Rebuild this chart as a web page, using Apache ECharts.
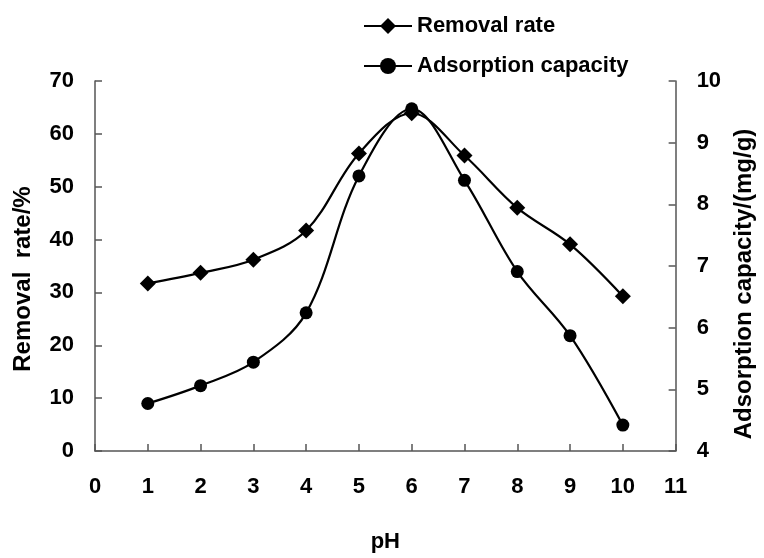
<!DOCTYPE html>
<html>
<head>
<meta charset="utf-8">
<script src="https://cdn.jsdelivr.net/npm/echarts@6/dist/echarts.min.js"></script>
<style>
  html, body { margin: 0; padding: 0; background: #fff; }
  #main { width: 764px; height: 558px; }
</style>
</head>
<body>
<div id="main"></div>
<script>
  // pH values and the two measured series
  var phValues = [1, 2, 3, 4, 5, 6, 7, 8, 9, 10]
  var removalRate = [31.7, 33.7, 36.2, 41.7, 56.3, 63.9, 55.9, 46.0, 39.1, 29.3]
  var adsorptionCapacity = [4.77, 5.06, 5.44, 6.24, 8.46, 9.55, 8.39, 6.91, 5.87, 4.42]
  var seriesNames = ['Removal rate', 'Adsorption capacity']

  function pairs (xs, ys) {
    return xs.map(function (x, i) { return [x, ys[i]] })
  }

  var font = 'Liberation Sans, Arial, sans-serif'
  var axisColor = '#555'

  var chart = echarts.init(document.getElementById('main'))
  chart.setOption({
    animation: false,
    backgroundColor: '#fff',
    legend: {
      orient: 'vertical',
      left: 358,
      top: 10,
      itemWidth: 48,
      itemHeight: 20,
      itemGap: 18,
      data: seriesNames,
      textStyle: { fontFamily: font, fontWeight: 'bold', fontSize: 22, color: '#000' }
    },
    grid: { left: 95, right: 82, top: 81, bottom: 89 },
    xAxis: {
      type: 'value',
      min: 0,
      max: 11,
      interval: 1,
      name: 'pH',
      nameLocation: 'middle',
      nameGap: 80,
      nameTextStyle: { fontFamily: font, fontWeight: 'bold', fontSize: 22, color: '#000' },
      axisLine: { lineStyle: { color: axisColor, width: 1.5 } },
      axisTick: { inside: true, length: 7, lineStyle: { color: axisColor, width: 1.5 } },
      axisLabel: { margin: 25, fontFamily: font, fontWeight: 'bold', fontSize: 22, color: '#000' },
      splitLine: { show: false }
    },
    yAxis: [
      {
        type: 'value',
        min: 0,
        max: 70,
        interval: 10,
        name: 'Removal  rate/%',
        nameLocation: 'middle',
        nameGap: 60,
        nameTextStyle: { fontFamily: font, fontWeight: 'bold', fontSize: 24, color: '#000', padding: [0, 26, 0, 0] },
        axisLine: { show: true, lineStyle: { color: axisColor, width: 1.5 } },
        axisTick: { show: true, inside: true, length: 7, lineStyle: { color: axisColor, width: 1.5 } },
        axisLabel: { margin: 21, fontFamily: font, fontWeight: 'bold', fontSize: 22, color: '#000' },
        splitLine: { show: false }
      },
      {
        type: 'value',
        min: 4,
        max: 10,
        interval: 1,
        position: 'right',
        name: 'Adsorption capacity/(mg/g)',
        nameLocation: 'middle',
        nameGap: 54,
        nameRotate: 90,
        nameTextStyle: { fontFamily: font, fontWeight: 'bold', fontSize: 24, color: '#000', padding: [0, 36, 0, 0] },
        axisLine: { show: true, lineStyle: { color: axisColor, width: 1.5 } },
        axisTick: { show: true, inside: true, length: 7, lineStyle: { color: axisColor, width: 1.5 } },
        axisLabel: { margin: 21, fontFamily: font, fontWeight: 'bold', fontSize: 22, color: '#000' },
        splitLine: { show: false }
      }
    ],
    series: [
      {
        name: seriesNames[0],
        type: 'line',
        yAxisIndex: 0,
        smooth: 0.35,
        symbol: 'diamond',
        symbolSize: 16,
        itemStyle: { color: '#000' },
        lineStyle: { color: '#000', width: 2.2 },
        data: pairs(phValues, removalRate)
      },
      {
        name: seriesNames[1],
        type: 'line',
        yAxisIndex: 1,
        smooth: 0.35,
        symbol: 'circle',
        symbolSize: 13,
        itemStyle: { color: '#000' },
        lineStyle: { color: '#000', width: 2.2 },
        data: pairs(phValues, adsorptionCapacity)
      }
    ]
  })
</script>
</body>
</html>
